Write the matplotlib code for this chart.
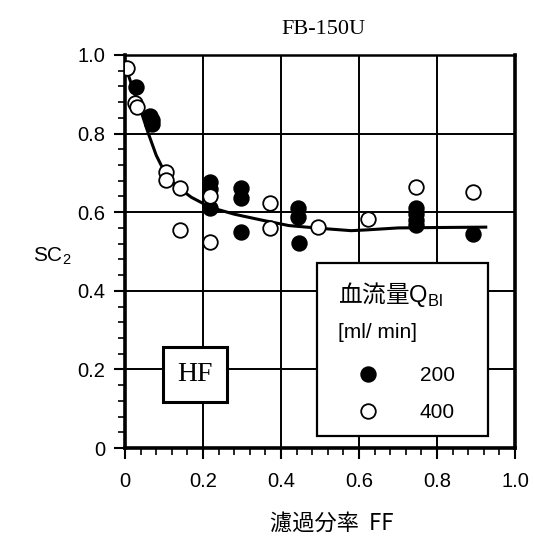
import matplotlib
matplotlib.use('Agg')
import matplotlib.pyplot as plt
from matplotlib.patches import Rectangle
from matplotlib.lines import Line2D
from matplotlib.ticker import MultipleLocator

# SC2 vs filtration fraction, FB-150U, HF mode

# Q_Bl = 200 ml/min (filled)
ff_200 = [0.028, 0.065, 0.070, 0.068, 0.218, 0.218, 0.218, 0.297, 0.297, 0.297,
          0.444, 0.444, 0.447, 0.746, 0.746, 0.746, 0.746, 0.893]
sc_200 = [0.919, 0.845, 0.835, 0.825, 0.678, 0.660, 0.610, 0.661, 0.636, 0.550,
          0.610, 0.589, 0.521, 0.610, 0.595, 0.580, 0.567, 0.545]

# Q_Bl = 400 ml/min (open)
ff_400 = [0.006, 0.026, 0.030, 0.105, 0.105, 0.141, 0.141, 0.218, 0.218, 0.372,
          0.372, 0.496, 0.624, 0.746, 0.893]
sc_400 = [0.966, 0.879, 0.867, 0.703, 0.682, 0.661, 0.555, 0.640, 0.525, 0.623,
          0.559, 0.563, 0.582, 0.665, 0.652]

# fitted curve
fit_ff = [0.0, 0.02, 0.04, 0.06, 0.08, 0.10, 0.13, 0.17, 0.22, 0.28, 0.35,
          0.42, 0.50, 0.58, 0.62, 0.70, 0.80, 0.925]
fit_sc = [0.975, 0.915, 0.86, 0.80, 0.745, 0.705, 0.668, 0.638, 0.612, 0.595,
          0.58, 0.566, 0.559, 0.553, 0.555, 0.56, 0.561, 0.562]

ticks = [0, 0.2, 0.4, 0.6, 0.8, 1.0]
tick_labels = ['0', '0.2', '0.4', '0.6', '0.8', '1.0']
series_labels = ['200', '400']

plt.rcParams['font.family'] = ['Liberation Sans', 'Noto Sans CJK JP', 'DejaVu Sans']
plt.rcParams['mathtext.fontset'] = 'custom'
plt.rcParams['mathtext.rm'] = 'Liberation Sans'
plt.rcParams['mathtext.sf'] = 'Liberation Sans'
cjk = ['Noto Sans CJK JP', 'DejaVu Sans']

fig = plt.figure(figsize=(5.35, 5.36), dpi=100)
ax = fig.add_axes([125/535, 88/536, 390/535, 393/536])
ax.set_xlim(0, 1)
ax.set_ylim(0, 1)

ax.set_xticks(ticks)
ax.set_xticklabels(tick_labels)
ax.set_yticks(ticks)
ax.set_yticklabels(tick_labels)
ax.xaxis.set_minor_locator(MultipleLocator(0.04))
ax.yaxis.set_minor_locator(MultipleLocator(0.04))
ax.tick_params(which='major', direction='out', length=8, width=1.5, labelsize=14.5, pad=6)
ax.tick_params(which='minor', direction='out', length=5, width=1.2)
ax.tick_params(axis='x', pad=9)

for s in ['left', 'bottom', 'right']:
    ax.spines[s].set_linewidth(2.6)
ax.spines['top'].set_linewidth(1.8)

ax.grid(True, which='major', color='black', lw=1.4, zorder=1)
ax.set_axisbelow(True)

ax.plot(fit_ff, fit_sc, color='black', lw=2.2, zorder=2)
ax.plot(ff_200, sc_200, 'o', ms=10.5, mfc='black', mec='black', mew=1.3, zorder=3)
ax.plot(ff_400, sc_400, 'o', ms=10.5, mfc='white', mec='black', mew=1.3, zorder=4)

# HF box
ax.add_patch(Rectangle((0.098, 0.118), 0.163, 0.14, transform=ax.transAxes,
                       fc='white', ec='black', lw=2.2, zorder=5))
ax.text(0.179, 0.186, 'HF', transform=ax.transAxes, ha='center', va='center',
        fontsize=20, family='Liberation Serif', zorder=6)

# legend box
ax.add_patch(Rectangle((0.492, 0.031), 0.438, 0.44, transform=ax.transAxes,
                       fc='white', ec='black', lw=1.6, zorder=5))
ax.text(0.546, 0.372, '血流量$\\mathsf{Q}_{\\mathsf{Bl}}$', transform=ax.transAxes,
        ha='left', va='baseline', fontsize=17, family=cjk, zorder=6)
ax.text(0.546, 0.295, '[ml/ min]', transform=ax.transAxes, ha='left', va='center',
        fontsize=15, zorder=6)
handles = [Line2D([], [], ls='none', marker='o', ms=10.5, mfc='black', mec='black', mew=1.3),
           Line2D([], [], ls='none', marker='o', ms=10.5, mfc='white', mec='black', mew=1.3)]
leg = ax.legend(handles, series_labels, loc='center left', bbox_to_anchor=(0.569, 0.137),
                frameon=False, fontsize=15, handlelength=2, handletextpad=1.5,
                labelspacing=0.85, borderpad=0, borderaxespad=0)
leg.set_zorder(7)

fig.text(323/535, 1 - 29/536, 'FB-150U', ha='center', va='center', fontsize=16,
         family='Liberation Serif')
ax.text(-0.187, 0.489, 'SC$_2$', transform=ax.transAxes, ha='center', va='center',
        fontsize=15)
fig.text(332/535, 1 - 523/536, '濾過分率  FF', ha='center', va='center', fontsize=16,
         family=cjk)

fig.savefig('out.png', dpi=100)
